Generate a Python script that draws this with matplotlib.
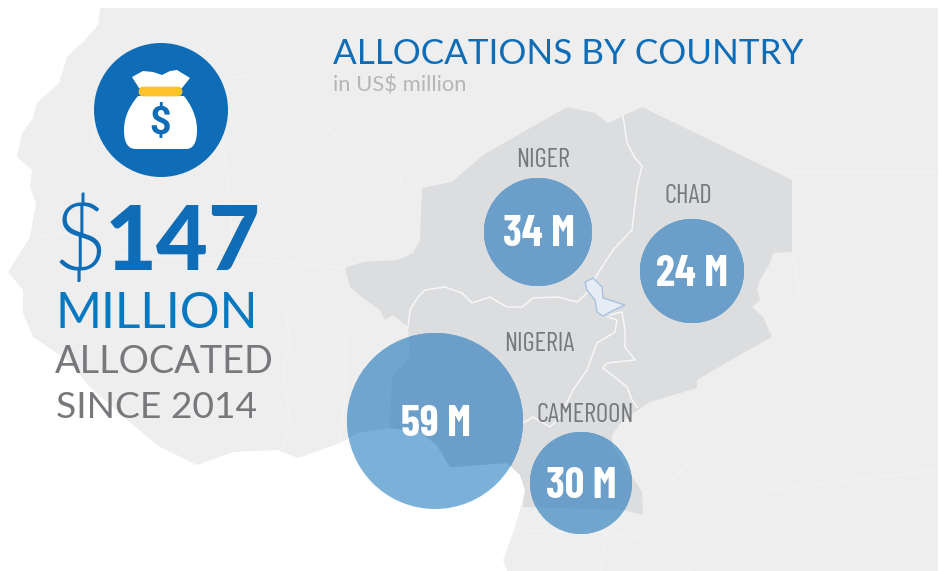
import matplotlib
matplotlib.use('Agg')
import matplotlib.pyplot as plt
from matplotlib.patches import Circle, Polygon, PathPatch, FancyBboxPatch
from matplotlib.path import Path

# values
countries = ['NIGER', 'CHAD', 'NIGERIA', 'CAMEROON']
allocations = [34, 24, 59, 30]
total = 147
since = 2014

# colours
BLUE = '#0e6db6'
BLUE2 = '#0878c0'
GREY = '#77787b'
LAND = '#eeeeef'
FOCUS = '#dcdddf'
NARROW = ['Barlow Condensed', 'Roboto']

# bubble layout in image pixels
bubble_x = [538, 692, 435, 581]
bubble_y = [232, 271, 421, 483]
bubble_r = [54, 52, 88, 51]
name_x = [542.5, 688, 539.5, 585.5]
name_y = [160, 196, 344, 415]

# map outlines traced in image pixels
land_outline = [(100, 8), (98, 25), (85, 40), (67, 57), (59, 83), (37, 103), (33, 118), (22, 133), (17, 157),
                (32, 170), (30, 187), (36, 203), (30, 237), (8, 272), (23, 290), (23, 313), (33, 337),
                (67, 360), (90, 387), (127, 420), (160, 447), (197, 465), (233, 452), (277, 450), (298, 458),
                (340, 443), (357, 433), (390, 428), (420, 432), (437, 445), (450, 467), (507, 463), (520, 475),
                (525, 490), (520, 510), (513, 533), (503, 560), (507, 571), (938, 571), (938, 8)]
focus_outline = [(345, 268), (363, 262), (398, 260), (413, 253), (420, 240), (422, 188), (452, 182), (483, 155),
                 (567, 107), (595, 113), (608, 123), (623, 116), (642, 107), (792, 180), (792, 252), (773, 253),
                 (770, 263), (760, 280), (757, 290), (760, 300), (752, 307), (763, 317), (772, 337), (743, 353),
                 (697, 380), (697, 388), (650, 402), (623, 420), (612, 435), (613, 447), (642, 492), (643, 515),
                 (623, 510), (523, 507), (525, 490), (520, 475), (507, 463), (450, 467), (437, 445), (420, 432),
                 (390, 428), (392, 377), (410, 357), (408, 327), (393, 315), (385, 320), (380, 310), (363, 298),
                 (350, 287)]
focus_borders = [
    [(408, 327), (410, 310), (418, 297), (425, 290), (445, 287), (462, 293), (472, 303), (490, 297),
     (507, 307), (522, 307), (533, 298), (557, 297), (577, 302), (587, 293)],
    [(623, 116), (627, 143), (635, 158), (642, 166), (637, 187), (632, 230), (613, 250), (602, 267),
     (595, 278)],
    [(610, 315), (622, 312), (625, 330), (625, 347), (635, 360), (607, 363), (603, 368), (627, 387),
     (632, 400), (637, 407)],
    [(608, 317), (617, 320), (615, 332), (597, 343), (587, 370), (573, 390), (560, 417), (550, 427),
     (533, 417), (523, 423), (507, 447), (503, 460)],
]
land_borders = [
    [(192, 43), (320, 123), (362, 155), (380, 168), (400, 177), (402, 190), (422, 188)],
    [(20, 147), (95, 147), (93, 110)],
    [(223, 78), (247, 77)],
    [(222, 133), (230, 200), (232, 227), (228, 260)],
    [(30, 238), (63, 233), (85, 240), (120, 255), (190, 258), (260, 260), (345, 268)],
    [(552, 90), (567, 107)],
    [(792, 172), (830, 172), (938, 172)],
    [(792, 252), (800, 290), (772, 337)],
    [(345, 268), (310, 280), (285, 300), (290, 345), (283, 370), (290, 420), (283, 450)],
    [(385, 320), (345, 335), (345, 400), (340, 443)],
    [(393, 377), (392, 428)],
    [(673, 480), (697, 453), (730, 463), (770, 490), (938, 470)],
    [(643, 515), (660, 495), (690, 480)],
    [(515, 530), (607, 533), (600, 571)],
    [(607, 533), (650, 540), (690, 571)],
]
lake_outline = [(585, 282), (593, 278), (602, 287), (603, 298), (625, 305), (610, 312), (603, 316),
                (597, 312), (595, 300), (587, 290)]

fig = plt.figure(figsize=(9.42, 5.71), dpi=100)
ax = fig.add_axes([0, 0, 1, 1])
ax.set_xlim(0, 942)
ax.set_ylim(571, 0)
ax.axis('off')

# base map
ax.add_patch(Polygon(land_outline, fc=LAND, ec='none', zorder=1))
ax.add_patch(Polygon(focus_outline, fc=FOCUS, ec='none', zorder=2))
for line in land_borders:
    ax.plot(*zip(*line), color='#f3f3f4', lw=0.8, zorder=2)
for line in focus_borders:
    ax.plot(*zip(*line), color='#f7f7f8', lw=1.1, zorder=3)
ax.add_patch(Polygon(lake_outline, fc='#e6edf7', ec='#a9c1e0', lw=1, zorder=4))

# bubbles, the map shows through them like a multiply layer
for cx, cy, r, value in zip(bubble_x, bubble_y, bubble_r, allocations):
    ax.add_patch(Circle((cx, cy), r, fc='#7bb0d9', ec='none', zorder=5))
    clip = Circle((cx, cy), r, transform=ax.transData)
    light = Polygon(land_outline, fc='#70a5ce', ec='none', zorder=5.1)
    dark = Polygon(focus_outline, fc='#6b9fc9', ec='none', zorder=5.2)
    ax.add_patch(light)
    ax.add_patch(dark)
    light.set_clip_path(clip)
    dark.set_clip_path(clip)
    ax.text(cx + 0.5, cy + 3, f'{value} M', color='white', fontsize=31, fontweight='bold',
            family=NARROW, ha='center', va='center', zorder=7)

for name, x, y in zip(countries, name_x, name_y):
    ax.text(x, y, name, color=GREY, fontsize=19.2, family=NARROW, ha='center', va='center', zorder=7)

# money bag icon
ax.add_patch(Circle((161, 110), 67, fc=BLUE, ec='none', zorder=6))
ax.add_patch(Polygon([(132, 77), (143, 71), (153, 72), (162, 75), (170, 71), (177, 70), (190, 78),
                      (182, 88), (139, 88)], fc='white', ec='none', zorder=6.1))
bag = Path([(138, 96), (126, 110), (124, 122), (124, 130), (124, 143), (128, 149), (136, 149), (186, 149),
            (193, 149), (197, 143), (197, 130), (197, 122), (195, 110), (184, 96), (138, 96)],
           [Path.MOVETO, Path.CURVE4, Path.CURVE4, Path.CURVE4, Path.CURVE4, Path.CURVE4, Path.CURVE4,
            Path.LINETO, Path.CURVE4, Path.CURVE4, Path.CURVE4, Path.CURVE4, Path.CURVE4, Path.CURVE4,
            Path.CLOSEPOLY])
ax.add_patch(PathPatch(bag, fc='white', ec='none', zorder=6.1))
ax.add_patch(FancyBboxPatch((140, 88), 41, 7, boxstyle='round,pad=0,rounding_size=3.5', fc='#fdc22c',
                            ec='#fdc22c', lw=2, zorder=6.2))
ax.text(160.5, 123.5, '$', color=BLUE, fontsize=27, fontweight='bold', family='Roboto', ha='center',
        va='center', zorder=6.3)

# headline numbers
ax.text(333, 64, 'ALLOCATIONS BY COUNTRY', color=BLUE, fontsize=25.2, family='Lato', va='baseline', zorder=7)
ax.text(333, 91, 'in US$ million', color='#b5b6b8', fontsize=15.8, family='Lato', va='baseline', zorder=7)
ax.text(53, 270, '$', color=BLUE, fontsize=68, family='Lato', fontweight=300, va='baseline', zorder=7)
ax.text(105, 270, str(total), color=BLUE, fontsize=64.5, family='Lato', fontweight='black', va='baseline', zorder=7)
ax.text(56, 328, 'MILLION', color=BLUE2, fontsize=35.7, family='Lato', va='baseline', zorder=7)
ax.text(55, 373, 'ALLOCATED', color=GREY, fontsize=27.3, family='Lato', va='baseline', zorder=7)
ax.text(55.5, 418, f'SINCE {since}', color=GREY, fontsize=26.8, family='Lato', va='baseline', zorder=7)

fig.savefig('out.png', dpi=100)
